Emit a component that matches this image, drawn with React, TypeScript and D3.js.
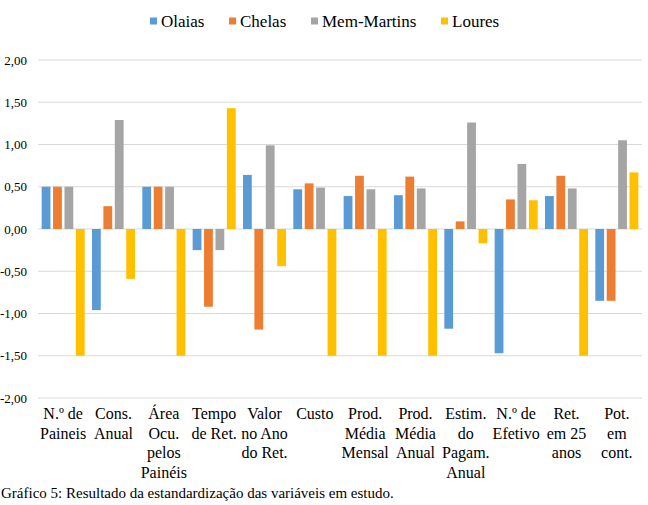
import React from "react";
import * as d3 from "d3";

const categories: string[][] = [
  ["N.º de", "Paineis"],
  ["Cons.", "Anual"],
  ["Área", "Ocu.", "pelos", "Painéis"],
  ["Tempo", "de Ret."],
  ["Valor", "no Ano", "do Ret."],
  ["Custo"],
  ["Prod.", "Média", "Mensal"],
  ["Prod.", "Média", "Anual"],
  ["Estim.", "do", "Pagam.", "Anual"],
  ["N.º de", "Efetivo"],
  ["Ret.", "em 25", "anos"],
  ["Pot.", "em", "cont."],
];

const seriesNames = ["Olaias", "Chelas", "Mem-Martins", "Loures"];
const olaias = [0.5, -0.96, 0.5, -0.25, 0.64, 0.47, 0.39, 0.4, -1.18, -1.47, 0.39, -0.85];
const chelas = [0.5, 0.27, 0.5, -0.92, -1.19, 0.54, 0.63, 0.62, 0.09, 0.35, 0.63, -0.85];
const memMartins = [0.5, 1.29, 0.5, -0.25, 0.99, 0.49, 0.47, 0.48, 1.26, 0.77, 0.48, 1.05];
const loures = [-1.5, -0.59, -1.5, 1.43, -0.44, -1.5, -1.5, -1.5, -0.17, 0.34, -1.5, 0.67];
const seriesValues = [olaias, chelas, memMartins, loures];
const colors = ["#5B9BD5", "#ED7D31", "#A5A5A5", "#FFC000"];
const yTicks = [2, 1.5, 1, 0.5, 0, -0.5, -1, -1.5, -2];
const caption = "Gráfico 5: Resultado da estandardização das variáveis em estudo.";
const legendX = [150, 229, 311, 441];

const FONT = "'Liberation Serif', 'Times New Roman', serif";
const ts = { fontFamily: FONT };

export default function App() {
  const W = 648;
  const H = 505;
  const left = 38;
  const right = 642;
  const top = 60;
  const bottom = 398;

  const x0 = d3
    .scaleBand<number>()
    .domain(d3.range(categories.length))
    .range([left, right])
    .padding(0);
  const x1 = d3
    .scaleBand<number>()
    .domain(d3.range(seriesNames.length))
    .range([0, x0.bandwidth()])
    .paddingInner(0.23)
    .paddingOuter(0.32);
  const y = d3.scaleLinear().domain([-2, 2]).range([bottom, top]);
  const fmt = (v: number) => v.toFixed(2).replace(".", ",");

  return (
    <svg
      width={W}
      height={H}
      style={{ position: "absolute", left: 0, top: 0, background: "#fff", fontFamily: FONT }}
    >
      <rect x={0} y={0} width={W} height={H} fill="#fff" />
      {yTicks.map((t) => (
        <line
          key={"g" + t}
          x1={left}
          x2={right}
          y1={y(t)}
          y2={y(t)}
          stroke="#d9d9d9"
          strokeWidth={1}
        />
      ))}
      {yTicks.map((t) => (
        <text
          key={"yl" + t}
          x={27}
          y={y(t)}
          dy="0.35em"
          textAnchor="end"
          fontSize={13}
          fill="#000"
          style={ts}
        >
          {fmt(t)}
        </text>
      ))}
      {seriesValues.map((vals, si) =>
        vals.map((v, ci) => (
          <rect
            key={`b${si}-${ci}`}
            x={(x0(ci) as number) + (x1(si) as number)}
            y={Math.min(y(v), y(0))}
            width={x1.bandwidth()}
            height={Math.abs(y(v) - y(0))}
            fill={colors[si]}
          />
        ))
      )}
      {categories.map((lines, ci) => (
        <text
          key={"xl" + ci}
          x={(x0(ci) as number) + x0.bandwidth() / 2}
          y={419}
          textAnchor="middle"
          fontSize={16}
          fill="#000"
          style={ts}
        >
          {lines.map((ln, li) => (
            <tspan key={li} x={(x0(ci) as number) + x0.bandwidth() / 2} dy={li === 0 ? 0 : 19.5}>
              {ln}
            </tspan>
          ))}
        </text>
      ))}
      {seriesNames.map((name, si) => (
        <g key={"lg" + si}>
          <rect x={legendX[si]} y={17.5} width={7} height={7} fill={colors[si]} />
          <text x={legendX[si] + 11} y={27} fontSize={17} fill="#000" style={ts}>
            {name}
          </text>
        </g>
      ))}
      <text x={1} y={498} fontSize={15} fill="#000" style={ts}>
        {caption}
      </text>
    </svg>
  );
}
